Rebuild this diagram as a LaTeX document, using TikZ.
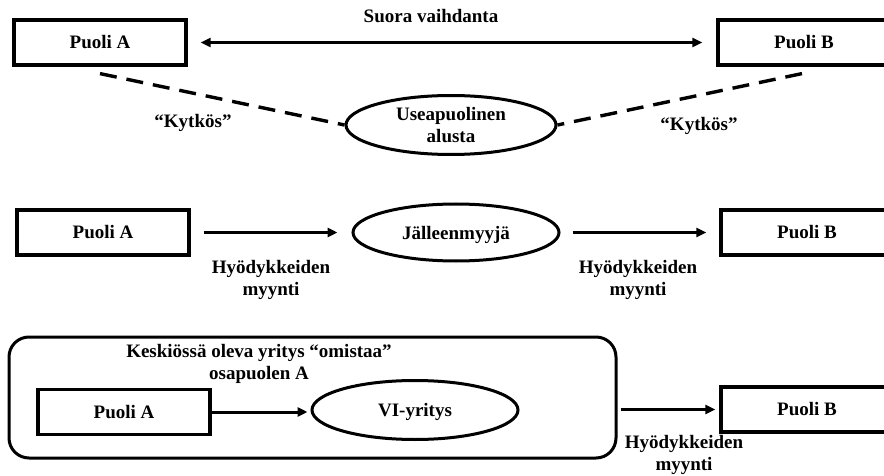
\documentclass[tikz,border=0pt]{standalone}
\usepackage{fontspec}
\setmainfont{Liberation Serif}
\usetikzlibrary{shapes.geometric,arrows.meta,calc}
\tikzset{
	>={Triangle[length=10pt,width=9pt]},
	box/.style={draw,line width=3.2pt,minimum width=172pt,minimum height=45pt,inner sep=0pt},
	oval/.style={draw,ellipse,line width=3pt,inner sep=0pt},
	frame/.style={draw,line width=3pt,rounded corners=20pt,minimum width=607pt,minimum height=121pt},
	conn/.style={line width=3pt,->},
	link/.style={line width=3.4pt,dash pattern=on 17pt off 10pt},
	lbl/.style={align=center}
}
\begin{document}
\begin{tikzpicture}[x=1pt,y=-1pt,every node/.style={font=\fontsize{19}{22}\selectfont\bfseries}]
	\useasboundingbox (0,0) rectangle (884,476);
	% suora vaihdanta
	\node[box] (puoliA1) at (100,42.5) {Puoli A};
	\node[box] (puoliB1) at (804,42.5) {Puoli B};
	\node[oval,align=center,minimum width=210pt,minimum height=59pt] (alusta) at (451,125) {Useapuolinen\\alusta};
	\draw[conn,<->,shorten <=13pt,shorten >=14pt] (puoliA1) -- (puoliB1);
	\node[lbl] (suora) at (431,16) {Suora vaihdanta};
	\draw[link] ($(puoliA1.south)+(0,7)$) -- (alusta.west);
	\draw[link] ($(puoliB1.south)+(-2,7)$) -- (alusta.east);
	\node[lbl] (kytkosA) at (193,123) {“Kytkös”};
	\node[lbl] (kytkosB) at (699,126) {“Kytkös”};
	% jalleenmyyja
	\node[box] (puoliA2) at (103,232.5) {Puoli A};
	\node[box] (puoliB2) at (807,232.5) {Puoli B};
	\node[oval,text depth=0pt,minimum width=206pt,minimum height=57pt] (jalleen) at (456,232.5) {Jälleenmyyjä};
	\draw[conn,shorten <=13pt,shorten >=14pt] (puoliA2) -- (jalleen);
	\draw[conn,shorten <=12pt,shorten >=13pt] (jalleen) -- (puoliB2);
	\foreach \n/\x in {myyntiA/271,myyntiB/638}
		\node[lbl] (\n) at (\x,280) {Hyödykkeiden\\myynti};
	% vertikaalinen integraatio
	\node[frame] (yhtio) at (312.5,397.5) {};
	\node[lbl] (omistaa) at (259,364) {Keskiössä oleva yritys “omistaa”\\osapuolen A};
	\node[box] (puoliA3) at (124,412) {Puoli A};
	\node[oval,text depth=0pt,minimum width=206pt,minimum height=59pt] (vi) at (415,410) {VI-yritys};
	\node[box] (puoliB3) at (807,409.5) {Puoli B};
	\draw[conn,shorten >=3pt] (puoliA3) -- (vi.west |- puoliA3);
	\draw[conn,shorten <=3pt,shorten >=4pt] (yhtio.east |- puoliB3) -- (puoliB3.west);
	\node[lbl] (myyntiC) at (684,455) {Hyödykkeiden\\myynti};
\end{tikzpicture}
\end{document}
